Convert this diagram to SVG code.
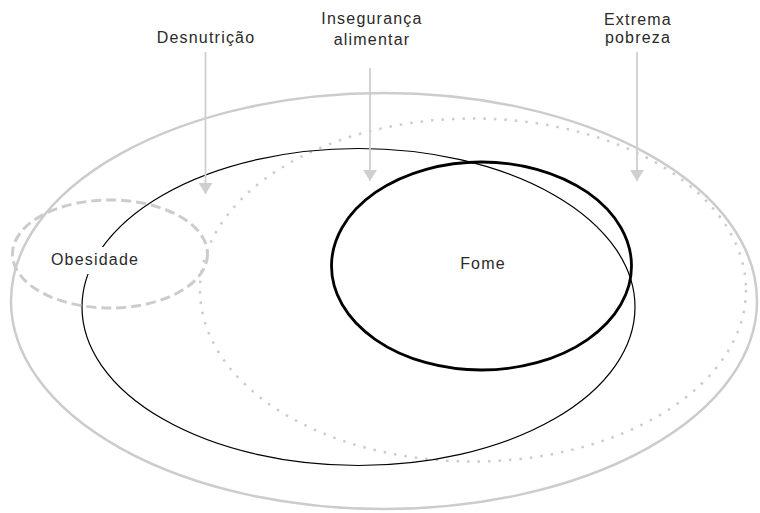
<svg xmlns="http://www.w3.org/2000/svg" width="760" height="513" viewBox="0 0 760 513">
<defs>
<style>
.lbl{font-family:"Liberation Sans",Arial,Helvetica,sans-serif;font-size:16px;letter-spacing:1.2px;fill:#2a2a2a;text-anchor:middle}
.arr{stroke:#cfcfcf;stroke-width:1.8;fill:none}
</style>
<marker id="ah" markerUnits="userSpaceOnUse" markerWidth="14" markerHeight="12" refX="7" refY="11" orient="0" viewBox="0 0 14 12">
<path d="M0,0 L14,0 L7,11 Z" fill="#cfcfcf"/>
</marker>
</defs>
<rect width="760" height="513" fill="#fff"/>
<g id="extrema-pobreza-outer">
<ellipse cx="384" cy="301" rx="373" ry="208" fill="none" stroke="#cccccc" stroke-width="2.5"/>
</g>
<g id="extrema-pobreza">
<ellipse cx="473" cy="290" rx="273" ry="171.5" fill="none" stroke="#cccccc" stroke-width="2.5" stroke-dasharray="2.5 8"/>
</g>
<g id="inseguranca">
<ellipse cx="358.5" cy="307" rx="276.5" ry="158.5" fill="none" stroke="#000" stroke-width="1.2"/>
</g>
<g id="fome">
<ellipse cx="481.5" cy="266" rx="150" ry="104" fill="none" stroke="#000" stroke-width="2.8"/>
<text class="lbl" x="483" y="269">Fome</text>
</g>
<g id="obesidade">
<ellipse cx="110" cy="254" rx="97.5" ry="54" fill="none" stroke="#cccccc" stroke-width="3" stroke-dasharray="10 5"/>
<rect x="48" y="247" width="92" height="27" fill="#fff"/>
<text class="lbl" x="95" y="265">Obesidade</text>
</g>
<g id="desnutricao">
<text class="lbl" x="206" y="43">Desnutrição</text>
</g>
<g id="inseguranca-label">
<text class="lbl" x="372" y="24">Insegurança</text>
<text class="lbl" x="372" y="45">alimentar</text>
</g>
<g id="extrema-label">
<text class="lbl" x="638" y="25">Extrema</text>
<text class="lbl" x="638" y="43">pobreza</text>
</g>
<g id="connectors">
<line class="arr" x1="205.5" y1="52" x2="205.5" y2="194" marker-end="url(#ah)"/>
<line class="arr" x1="370" y1="68" x2="370" y2="181" marker-end="url(#ah)"/>
<line class="arr" x1="637" y1="52" x2="637" y2="181" marker-end="url(#ah)"/>
</g>
</svg>
